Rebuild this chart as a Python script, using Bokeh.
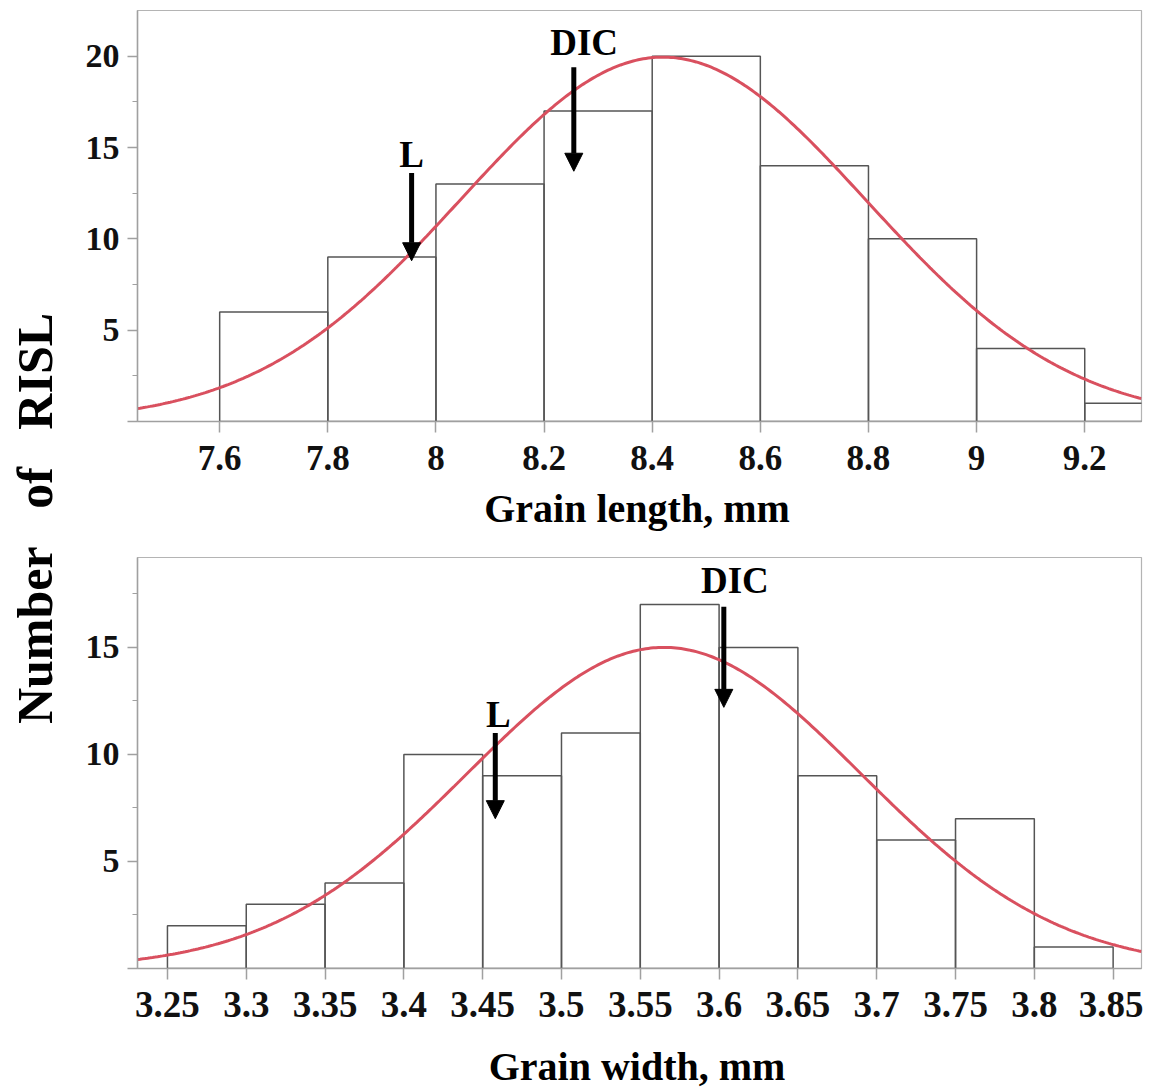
import numpy as np
from bokeh.plotting import figure
from bokeh.layouts import row, column
from bokeh.models import Range1d, FixedTicker, ColumnDataSource, Arrow, NormalHead
from bokeh.core.properties import value
from bokeh.embed import file_html
from bokeh.resources import INLINE

# ---------------- data ----------------
len_edges = [7.6, 7.8, 8.0, 8.2, 8.4, 8.6, 8.8, 9.0, 9.2, 9.4]
len_counts = [6, 9, 13, 17, 20, 14, 10, 4, 1]
len_ticks = [7.6, 7.8, 8.0, 8.2, 8.4, 8.6, 8.8, 9.0, 9.2]
len_tick_labels = ["7.6", "7.8", "8", "8.2", "8.4", "8.6", "8.8", "9", "9.2"]
len_mean = 8.42
len_sd = 0.376
len_marker_text = ["L", "DIC"]
len_arrow_x = [7.955, 8.255]
len_arrow_top = [13.6, 19.4]
len_arrow_tip = [8.8, 13.7]
len_text_x = [7.955, 8.274]
len_text_y = [13.9, 20.05]
len_title = "Grain length, mm"

wid_edges = [3.25, 3.30, 3.35, 3.40, 3.45, 3.50, 3.55, 3.60, 3.65, 3.70, 3.75, 3.80, 3.85]
wid_counts = [2, 3, 4, 10, 9, 11, 17, 15, 9, 6, 7, 1]
wid_ticks = [3.25, 3.30, 3.35, 3.40, 3.45, 3.50, 3.55, 3.60, 3.65, 3.70, 3.75, 3.80, 3.85]
wid_tick_labels = ["3.25", "3.3", "3.35", "3.4", "3.45", "3.5", "3.55", "3.6",
                   "3.65", "3.7", "3.75", "3.8", "3.85"]
wid_mean = 3.565
wid_sd = 0.125
wid_marker_text = ["L", "DIC"]
wid_arrow_x = [3.458, 3.603]
wid_arrow_top = [11.0, 16.9]
wid_arrow_tip = [7.0, 12.2]
wid_text_x = [3.46, 3.61]
wid_text_y = [11.25, 17.5]
wid_title = "Grain width, mm"

y_ticks = [0, 5, 10, 15, 20]
y_minor = [2.5, 7.5, 12.5, 17.5]
y_title = "Number\u2002\u2005of\u2002\u2005RISL"

FONT = "Liberation Serif"
CURVE = "#d9505f"
W = 1065


def panel(edges, counts, ticks, tick_labels, mean, sd, mtext, ax, atop, atip,
          tx, ty, xr, yr, height, bt, bb, xfs, xstand):
    p = figure(width=W, height=height, x_range=Range1d(*xr), y_range=Range1d(*yr),
               toolbar_location=None, output_backend="svg",
               min_border_left=59, min_border_right=2, min_border_top=bt,
               min_border_bottom=bb)
    p.xgrid.visible = False
    p.ygrid.visible = False
    p.outline_line_color = "#b4b4b4"
    p.outline_line_width = 1.2
    p.background_fill_color = "white"
    p.border_fill_color = "white"

    src = ColumnDataSource(dict(left=edges[:-1], right=edges[1:], top=counts))
    p.quad(left="left", right="right", top="top", bottom=0, source=src,
           fill_color=None, line_color="#555555", line_width=1.5)

    n = sum(counts)
    bw = edges[1] - edges[0]
    xs = np.linspace(xr[0], xr[1], 400)
    ys = n * bw * np.exp(-0.5 * ((xs - mean) / sd) ** 2) / (sd * np.sqrt(2 * np.pi))
    p.line(xs, ys, line_color=CURVE, line_width=3)

    for i in range(len(mtext)):
        p.add_layout(Arrow(end=NormalHead(size=18, fill_color="black", line_color="black"),
                           x_start=ax[i], y_start=atop[i], x_end=ax[i], y_end=atip[i],
                           line_color="black", line_width=5))
    p.text(x=tx, y=ty, text=mtext, text_font=value(FONT), text_font_style="bold",
           text_font_size="37px", text_align="center", text_baseline="alphabetic",
           text_color="black", y_offset=-13)

    # axes
    p.xaxis.ticker = FixedTicker(ticks=ticks, minor_ticks=[])
    p.xaxis.major_label_overrides = {t: l for t, l in zip(ticks, tick_labels)}
    p.yaxis.ticker = FixedTicker(ticks=[t for t in y_ticks if t <= yr[1]], minor_ticks=y_minor)
    p.yaxis.major_label_overrides = {0: ""}
    for a in (p.xaxis[0], p.yaxis[0]):
        a.axis_line_color = "#a0a0a0"
        a.axis_line_width = 1.5
        a.major_tick_line_color = "#a0a0a0"
        a.major_tick_line_width = 1.5
        a.minor_tick_line_color = "#a0a0a0"
        a.major_tick_in = 0
        a.minor_tick_in = 0
        a.major_label_text_font = FONT
        a.major_label_text_font_style = "bold"
        a.major_label_text_color = "#111111"
    p.xaxis.major_tick_out = 11
    p.yaxis.major_tick_out = 10
    p.yaxis.minor_tick_out = 5
    p.xaxis.major_label_text_font_size = xfs
    p.yaxis.major_label_text_font_size = "34px"
    p.xaxis.major_label_standoff = xstand
    p.yaxis.major_label_standoff = 8
    return p


def title_strip(text, height, y):
    # the column aligns this strip's frame with the panels' frames (screen x 137..1141)
    t = figure(width=W, height=height, x_range=Range1d(137, 1141), y_range=Range1d(0, height),
               toolbar_location=None, output_backend="svg", min_border=0,
               x_axis_location=None, y_axis_location=None)
    t.grid.visible = False
    t.outline_line_color = None
    t.text(x=[636.5], y=[y], text=[text], text_font=value(FONT), text_font_style="bold",
           text_font_size="40px", text_align="center", text_baseline="alphabetic",
           text_color="black", y_offset=-14)
    return t


p1 = panel(len_edges, len_counts, len_ticks, len_tick_labels, len_mean, len_sd,
           len_marker_text, len_arrow_x, len_arrow_top, len_arrow_tip,
           len_text_x, len_text_y, (7.448, 9.305), (0, 22.5),
           485, 10, 64, "35px", 13)
t1 = title_strip(len_title, 68, 31)
p2 = panel(wid_edges, wid_counts, wid_ticks, wid_tick_labels, wid_mean, wid_sd,
           wid_marker_text, wid_arrow_x, wid_arrow_top, wid_arrow_tip,
           wid_text_x, wid_text_y, (3.231, 3.868), (0, 19.2),
           479, 4, 64, "37px", 12)
t2 = title_strip(wid_title, 57, 9)

lab = figure(width=78, height=1089, x_range=Range1d(0, 78), y_range=Range1d(0, 1089),
             toolbar_location=None, output_backend="svg", min_border=0)
lab.axis.visible = False
lab.grid.visible = False
lab.outline_line_color = None
lab.text(x=[34], y=[1089 - 518], text=[y_title], angle=np.pi / 2,
         text_font=value(FONT), text_font_style="bold", text_font_size="50px",
         text_align="center", text_baseline="middle", text_color="black")

layout = row(lab, column(p1, t1, p2, t2))
open("out.html", "w").write(file_html(layout, INLINE))
